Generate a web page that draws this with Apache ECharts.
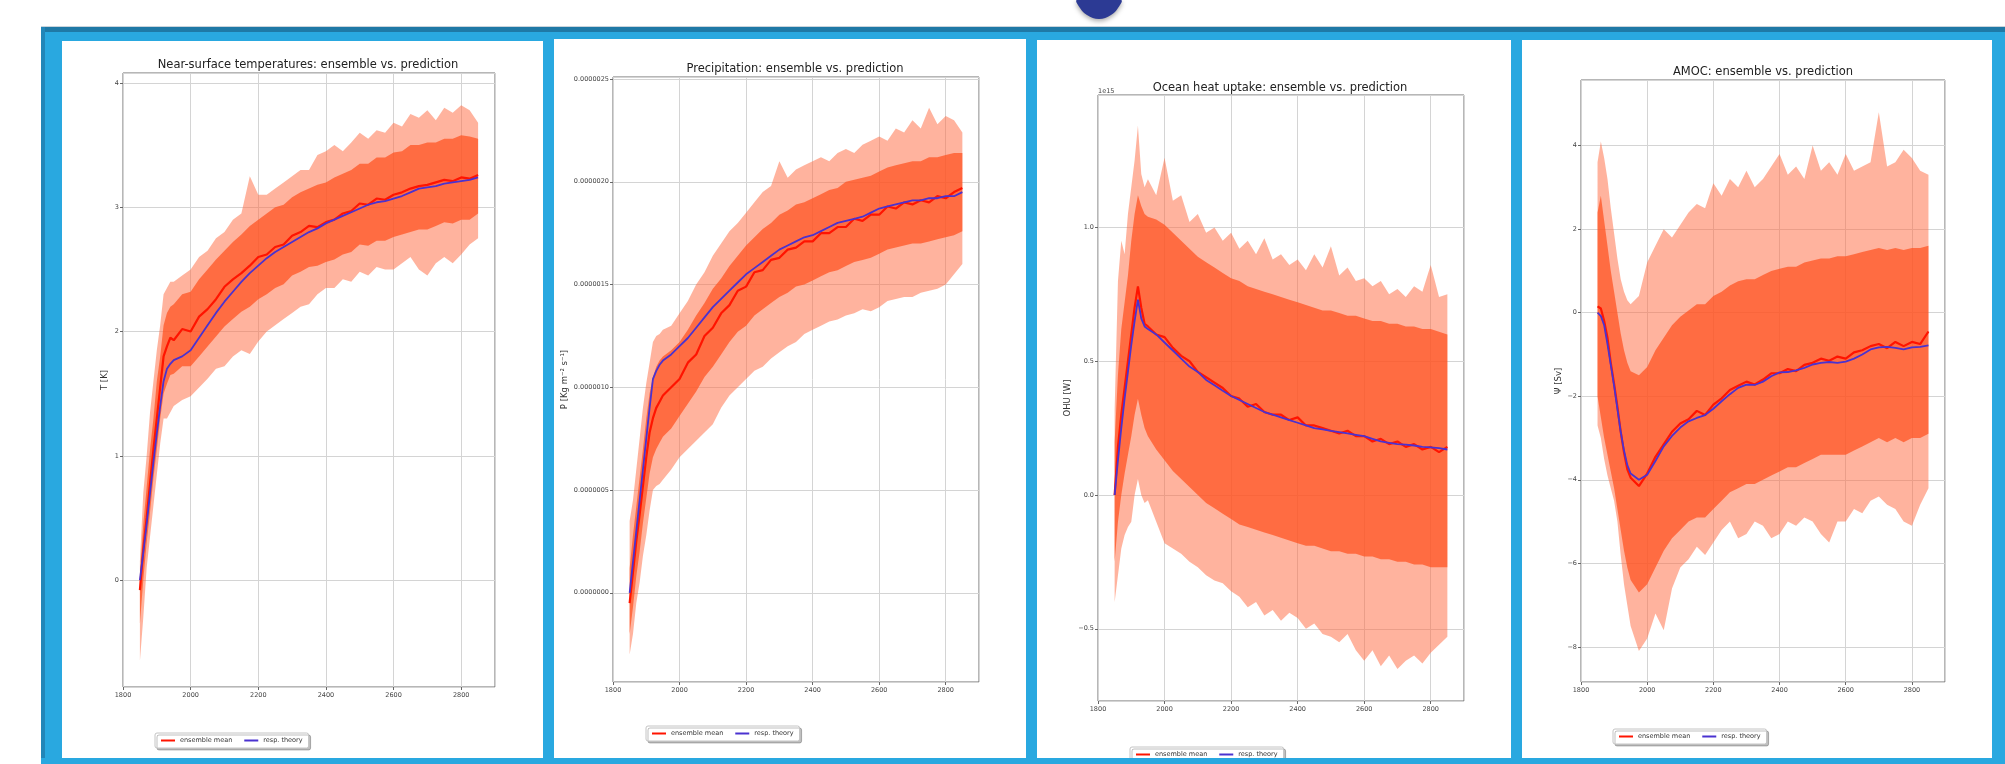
<!DOCTYPE html>
<html>
<head>
<meta charset="utf-8">
<title>ensemble vs. prediction</title>
<script src="https://cdn.jsdelivr.net/npm/echarts@6/dist/echarts.min.js"></script>
<style>
  html, body { margin: 0; padding: 0; background: #fff; }
  #main { width: 2005px; height: 764px; }
</style>
</head>
<body>
<div id="main"></div>
<script>
// model years (denser during the first century)
var years = [1850,1860,1870,1880,1890,1900,1910,1920,1930,1940,1950,
  1975,2000,2025,2050,2075,2100,2125,2150,2175,2200,
  2225,2250,2275,2300,2325,2350,2375,2400,2425,2450,
  2475,2500,2525,2550,2575,2600,2625,2650,2675,2700,
  2725,2750,2775,2800,2825,2850];

// near-surface temperature [K]
var tempTheory = [0,0.22,0.45,0.7,0.95,1.18,1.4,1.6,1.7,1.74,1.77, 1.8,1.85,1.95,2.05,2.15,2.24,2.32,2.4,2.47,2.53, 2.59,2.64,2.68,2.72,2.76,2.8,2.83,2.87,2.9,2.93, 2.96,2.99,3.02,3.04,3.05,3.07,3.09,3.12,3.15,3.16, 3.17,3.19,3.2,3.21,3.22,3.24];
var tempMean = [-0.08,0.25,0.5,0.78,1.05,1.3,1.55,1.8,1.88,1.95,1.93, 2.02,2.0,2.12,2.18,2.26,2.36,2.42,2.47,2.53,2.6, 2.62,2.68,2.7,2.77,2.8,2.85,2.84,2.88,2.9,2.95, 2.97,3.03,3.02,3.07,3.06,3.1,3.12,3.15,3.17,3.18, 3.2,3.22,3.21,3.24,3.23,3.26];
var tempOuterHi = [0.15,0.7,1.0,1.35,1.6,1.85,2.05,2.3,2.35,2.4,2.4, 2.45,2.5,2.6,2.65,2.75,2.8,2.9,2.95,3.25,3.1, 3.1,3.15,3.2,3.25,3.3,3.3,3.42,3.45,3.5,3.45, 3.52,3.6,3.55,3.62,3.6,3.68,3.65,3.75,3.72,3.78, 3.7,3.8,3.76,3.82,3.78,3.68];
var tempOuterLo = [-0.65,-0.3,0.1,0.35,0.6,0.85,1.1,1.3,1.3,1.35,1.4, 1.45,1.48,1.55,1.62,1.7,1.72,1.8,1.85,1.82,1.92, 2.0,2.05,2.1,2.15,2.2,2.22,2.3,2.35,2.35,2.42, 2.4,2.48,2.45,2.52,2.5,2.5,2.55,2.6,2.5,2.45, 2.55,2.6,2.55,2.62,2.7,2.75];
var tempInnerHi = [0.05,0.45,0.75,1.05,1.3,1.6,1.8,2.05,2.15,2.2,2.22, 2.3,2.32,2.42,2.5,2.58,2.65,2.72,2.78,2.85,2.9, 2.95,3.0,3.02,3.08,3.12,3.15,3.18,3.2,3.24,3.27, 3.3,3.35,3.35,3.4,3.4,3.44,3.45,3.5,3.5,3.52, 3.52,3.55,3.55,3.58,3.57,3.55];
var tempInnerLo = [-0.35,0.0,0.3,0.55,0.82,1.05,1.3,1.5,1.58,1.65,1.66, 1.72,1.72,1.8,1.88,1.96,2.04,2.1,2.16,2.2,2.26, 2.3,2.35,2.38,2.45,2.48,2.52,2.53,2.56,2.58,2.62, 2.64,2.7,2.69,2.73,2.73,2.76,2.78,2.8,2.82,2.82, 2.85,2.88,2.87,2.9,2.9,2.95];

// precipitation [1e-6 Kg m-2 s-1]
var precTheory = [0,0.15,0.3,0.45,0.6,0.75,0.9,1.04,1.08,1.11,1.13, 1.16,1.2,1.24,1.29,1.34,1.39,1.43,1.47,1.51,1.55, 1.58,1.61,1.64,1.67,1.69,1.71,1.73,1.74,1.76,1.78, 1.8,1.81,1.82,1.83,1.85,1.87,1.88,1.89,1.9,1.91, 1.91,1.92,1.92,1.93,1.93,1.95];
var precMean = [-0.05,0.1,0.25,0.38,0.52,0.66,0.78,0.85,0.9,0.93,0.96, 1.0,1.04,1.12,1.16,1.25,1.29,1.36,1.4,1.47,1.49, 1.56,1.57,1.62,1.63,1.67,1.68,1.71,1.71,1.75,1.75, 1.78,1.78,1.82,1.81,1.84,1.84,1.88,1.87,1.9,1.89, 1.91,1.9,1.93,1.92,1.95,1.97];
var precOuterHi = [0.35,0.45,0.6,0.75,0.9,1.02,1.12,1.22,1.25,1.26,1.28, 1.3,1.36,1.42,1.5,1.56,1.64,1.7,1.76,1.8,1.85, 1.9,1.95,1.98,2.1,2.02,2.06,2.08,2.1,2.12,2.1, 2.14,2.16,2.14,2.18,2.2,2.22,2.2,2.26,2.24,2.3, 2.26,2.36,2.28,2.32,2.3,2.24];
var precOuterLo = [-0.3,-0.2,-0.05,0.05,0.18,0.28,0.4,0.5,0.52,0.53,0.55, 0.6,0.66,0.7,0.74,0.78,0.82,0.9,0.96,1.0,1.04, 1.08,1.1,1.14,1.17,1.2,1.22,1.26,1.28,1.3,1.32, 1.33,1.35,1.36,1.38,1.37,1.39,1.42,1.43,1.44,1.44, 1.46,1.47,1.48,1.5,1.55,1.6];
var precInnerHi = [0.12,0.28,0.42,0.56,0.7,0.85,0.97,1.05,1.1,1.13,1.15, 1.18,1.22,1.28,1.35,1.41,1.48,1.53,1.59,1.64,1.69, 1.73,1.77,1.8,1.84,1.86,1.89,1.9,1.92,1.94,1.96, 1.97,2.0,2.01,2.02,2.03,2.05,2.07,2.08,2.09,2.1, 2.1,2.12,2.12,2.13,2.14,2.14];
var precInnerLo = [-0.2,-0.07,0.08,0.2,0.34,0.46,0.58,0.66,0.7,0.73,0.76, 0.8,0.86,0.92,0.98,1.05,1.1,1.16,1.22,1.27,1.3, 1.35,1.38,1.41,1.44,1.46,1.49,1.5,1.52,1.54,1.56, 1.57,1.59,1.61,1.62,1.63,1.65,1.67,1.68,1.69,1.7, 1.7,1.71,1.72,1.73,1.74,1.76];

// ocean heat uptake [1e15 W]
var ohuTheory = [0,0.13,0.25,0.36,0.46,0.56,0.65,0.73,0.66,0.63,0.62, 0.6,0.57,0.54,0.51,0.48,0.46,0.43,0.41,0.39,0.37, 0.355,0.34,0.325,0.31,0.3,0.29,0.28,0.27,0.26,0.25, 0.245,0.24,0.235,0.23,0.225,0.22,0.21,0.2,0.195,0.19, 0.188,0.185,0.18,0.178,0.175,0.17];
var ohuMean = [0.0,0.18,0.3,0.4,0.5,0.6,0.7,0.78,0.7,0.64,0.63, 0.6,0.59,0.55,0.52,0.5,0.46,0.44,0.42,0.4,0.37, 0.36,0.33,0.34,0.31,0.3,0.3,0.28,0.29,0.26,0.26, 0.25,0.24,0.23,0.24,0.22,0.22,0.2,0.21,0.19,0.2, 0.18,0.19,0.17,0.18,0.16,0.18];
var ohuOuterHi = [0.32,0.8,0.95,0.9,1.05,1.15,1.25,1.38,1.2,1.15,1.18, 1.12,1.26,1.1,1.12,1.02,1.05,0.98,1.0,0.95,0.98, 0.92,0.95,0.9,0.96,0.88,0.9,0.86,0.88,0.84,0.9, 0.85,0.93,0.82,0.85,0.8,0.81,0.78,0.8,0.75,0.77, 0.74,0.78,0.76,0.86,0.74,0.75];
var ohuOuterLo = [-0.4,-0.3,-0.2,-0.15,-0.12,-0.1,0.0,0.06,0.0,-0.03,-0.02, -0.1,-0.18,-0.2,-0.22,-0.25,-0.27,-0.3,-0.32,-0.33,-0.36, -0.38,-0.42,-0.4,-0.45,-0.43,-0.47,-0.44,-0.46,-0.5,-0.48, -0.52,-0.53,-0.55,-0.52,-0.58,-0.62,-0.58,-0.64,-0.6,-0.65, -0.62,-0.6,-0.63,-0.59,-0.56,-0.53];
var ohuInnerHi = [0.2,0.45,0.62,0.72,0.82,0.95,1.05,1.12,1.08,1.05,1.04, 1.03,1.01,0.98,0.95,0.92,0.89,0.87,0.85,0.83,0.81, 0.8,0.78,0.77,0.76,0.75,0.74,0.73,0.72,0.71,0.7, 0.69,0.69,0.68,0.67,0.67,0.66,0.65,0.65,0.64,0.64, 0.63,0.63,0.62,0.62,0.61,0.6];
var ohuInnerLo = [-0.25,-0.1,0.0,0.08,0.15,0.22,0.3,0.36,0.3,0.25,0.22, 0.17,0.13,0.09,0.06,0.03,0.0,-0.03,-0.05,-0.07,-0.09, -0.11,-0.12,-0.13,-0.14,-0.15,-0.16,-0.17,-0.18,-0.19,-0.19, -0.2,-0.21,-0.21,-0.22,-0.22,-0.23,-0.23,-0.24,-0.24,-0.25, -0.25,-0.26,-0.26,-0.27,-0.27,-0.27];

// AMOC [Sv]
var amocTheory = [0,-0.08,-0.3,-0.75,-1.25,-1.75,-2.3,-2.85,-3.3,-3.65,-3.85, -4.0,-3.88,-3.55,-3.2,-2.95,-2.75,-2.6,-2.52,-2.45,-2.3, -2.12,-1.95,-1.8,-1.72,-1.73,-1.65,-1.52,-1.43,-1.42,-1.38, -1.32,-1.24,-1.2,-1.18,-1.2,-1.17,-1.1,-1.0,-0.88,-0.83, -0.82,-0.84,-0.88,-0.83,-0.82,-0.78];
var amocMean = [0.15,0.1,-0.2,-0.6,-1.2,-1.7,-2.25,-2.85,-3.35,-3.75,-3.95, -4.15,-3.85,-3.45,-3.15,-2.85,-2.65,-2.55,-2.35,-2.45,-2.2, -2.05,-1.85,-1.75,-1.65,-1.72,-1.6,-1.45,-1.45,-1.35,-1.4, -1.25,-1.2,-1.1,-1.15,-1.05,-1.1,-0.95,-0.9,-0.8,-0.75, -0.85,-0.7,-0.8,-0.7,-0.75,-0.45];
var amocOuterHi = [3.6,4.1,3.7,3.2,2.5,1.9,1.3,0.8,0.5,0.3,0.2, 0.4,1.2,1.6,2.0,1.8,2.1,2.4,2.6,2.5,3.1, 2.8,3.2,3.0,3.4,3.0,3.2,3.5,3.8,3.3,3.5, 3.2,4.0,3.4,3.6,3.3,3.8,3.4,3.5,3.6,4.8, 3.5,3.6,3.9,3.7,3.4,3.3];
var amocOuterLo = [-2.7,-3.0,-3.5,-3.9,-4.2,-4.5,-5.0,-5.8,-6.5,-7.0,-7.5, -8.1,-7.8,-7.2,-7.6,-6.6,-6.1,-5.9,-5.6,-5.8,-5.5, -5.2,-5.0,-5.4,-5.3,-5.0,-5.1,-5.4,-5.3,-5.0,-5.1, -4.9,-5.0,-5.3,-5.5,-5.0,-5.0,-4.7,-4.8,-4.5,-4.4, -4.6,-4.7,-5.0,-5.1,-4.6,-4.2];
var amocInnerHi = [2.4,2.8,2.2,1.6,1.0,0.5,0.0,-0.5,-0.9,-1.2,-1.4, -1.5,-1.3,-0.9,-0.6,-0.3,-0.1,0.05,0.2,0.2,0.4, 0.5,0.65,0.75,0.8,0.8,0.9,1.0,1.05,1.1,1.1, 1.2,1.25,1.3,1.3,1.35,1.35,1.4,1.45,1.5,1.55, 1.5,1.55,1.5,1.55,1.55,1.6];
var amocInnerLo = [-2.0,-2.5,-3.0,-3.4,-3.8,-4.2,-4.7,-5.2,-5.7,-6.1,-6.4, -6.7,-6.5,-6.1,-5.7,-5.4,-5.2,-5.0,-4.9,-4.9,-4.7, -4.5,-4.3,-4.2,-4.1,-4.1,-4.0,-3.9,-3.8,-3.7,-3.7, -3.6,-3.5,-3.4,-3.4,-3.4,-3.4,-3.3,-3.2,-3.1,-3.0, -3.1,-3.0,-3.1,-3.0,-3.0,-2.9];

var legendNames = ['ensemble mean', 'resp. theory'];

function minus(s) { return String(s).replace('-', '\u2212'); }

var panels = [
  { title: 'Near-surface temperatures: ensemble vs. prediction', yName: 'T [K]',
    theory: tempTheory, mean: tempMean, oLo: tempOuterLo, oHi: tempOuterHi, iLo: tempInnerLo, iHi: tempInnerHi,
    grid: { left: 123, top: 73, width: 372, height: 614 }, titleAt: [308, 59], legendAt: [155, 733],
    yMin: -0.86, yMax: 4.08, split: 5, nameGap: 14,
    fmt: function (v) { return minus(v); } },
  { title: 'Precipitation: ensemble vs. prediction', yName: 'P [Kg m\u207B\u00B2 s\u207B\u00B9]',
    theory: precTheory, mean: precMean, oLo: precOuterLo, oHi: precOuterHi, iLo: precInnerLo, iHi: precInnerHi,
    grid: { left: 613, top: 77, width: 366, height: 605 }, titleAt: [795, 63], legendAt: [646, 726],
    yMin: -0.434, yMax: 2.51, split: 5, nameGap: 44,
    fmt: function (v) { return (v / 1e6).toFixed(7); } },
  { title: 'Ocean heat uptake: ensemble vs. prediction', yName: 'OHU [W]',
    theory: ohuTheory, mean: ohuMean, oLo: ohuOuterLo, oHi: ohuOuterHi, iLo: ohuInnerLo, iHi: ohuInnerHi,
    grid: { left: 1098, top: 95, width: 366, height: 606 }, titleAt: [1280, 82], legendAt: [1130, 747],
    yMin: -0.77, yMax: 1.495, split: 5, nameGap: 26,
    fmt: function (v) { return minus(v.toFixed(1)); } },
  { title: 'AMOC: ensemble vs. prediction', yName: '\u03A8 [Sv]',
    theory: amocTheory, mean: amocMean, oLo: amocOuterLo, oHi: amocOuterHi, iLo: amocInnerLo, iHi: amocInnerHi,
    grid: { left: 1581, top: 80, width: 364, height: 602 }, titleAt: [1763, 66], legendAt: [1613, 729],
    yMin: -8.84, yMax: 5.57, split: 7, nameGap: 18,
    fmt: function (v) { return minus(v); } }
];

function pairs(vals) {
  return years.map(function (y, i) { return [y, vals[i]]; });
}

// spread between two envelopes, drawn as one polygon through the axis scales
function bandSeries(k, lo, hi, color, z) {
  return {
    type: 'custom', xAxisIndex: k, yAxisIndex: k, zlevel: 1, z: z, silent: true,
    data: years.map(function (y, i) { return [y, lo[i], hi[i]]; }),
    encode: { x: 0, y: [1, 2] },
    renderItem: function (params, api) {
      if (params.dataIndex !== 0) return null;
      var upper = [], lower = [];
      years.forEach(function (y, i) {
        upper.push(api.coord([y, hi[i]]));
        lower.unshift(api.coord([y, lo[i]]));
      });
      return { type: 'polygon', shape: { points: upper.concat(lower) }, style: { fill: color } };
    }
  };
}

var font = 'DejaVu Sans';
var grids = [], xAxes = [], yAxes = [], titles = [], legends = [], series = [];

panels.forEach(function (p, k) {
  grids.push(Object.assign({ show: true, borderColor: '#6f6f6f', borderWidth: 1, backgroundColor: 'transparent' }, p.grid));
  xAxes.push({
    type: 'value', gridIndex: k, min: 1800, max: 2900, splitNumber: 5,
    axisLine: { show: false, onZero: false },
    axisTick: { length: 3, lineStyle: { color: '#666' } },
    axisLabel: { fontSize: 6.5, color: '#444', fontFamily: font, margin: 5, showMaxLabel: false,
      formatter: function (v) { return String(v); } },
    splitLine: { show: true, lineStyle: { color: '#d4d4d4' } }
  });
  yAxes.push({
    type: 'value', gridIndex: k, min: p.yMin, max: p.yMax, splitNumber: p.split,
    name: p.yName, nameLocation: 'middle', nameGap: p.nameGap,
    nameTextStyle: { fontSize: 8.5, color: '#333', fontFamily: font },
    axisLine: { show: false, onZero: false },
    axisTick: { length: 3, lineStyle: { color: '#666' } },
    axisLabel: { fontSize: 6.5, color: '#444', fontFamily: font, margin: 4,
      showMinLabel: false, showMaxLabel: false, formatter: p.fmt },
    splitLine: { show: true, lineStyle: { color: '#d4d4d4' } }
  });
  titles.push({
    text: p.title, left: p.titleAt[0], top: p.titleAt[1], textAlign: 'center', padding: 0,
    textStyle: { fontSize: 11.5, fontWeight: 'normal', color: '#222', fontFamily: font }
  });
  legends.push({
    data: legendNames, left: p.legendAt[0], top: p.legendAt[1],
    icon: 'rect', itemWidth: 14, itemHeight: 2, itemGap: 12, padding: [4, 6],
    backgroundColor: '#fff', borderColor: '#c4c4c4', borderWidth: 1, borderRadius: 2,
    shadowColor: 'rgba(0,0,0,0.25)', shadowOffsetX: 2, shadowOffsetY: 2,
    textStyle: { fontSize: 6.5, color: '#333', fontFamily: font }
  });

  // ensemble spread: faint outer envelope and dense inner core
  series.push(bandSeries(k, p.oLo, p.oHi, 'rgba(255,104,62,0.5)', 1));
  series.push(bandSeries(k, p.iLo, p.iHi, 'rgba(255,82,32,0.72)', 2));

  series.push({
    name: 'ensemble mean', type: 'line', xAxisIndex: k, yAxisIndex: k, data: pairs(p.mean),
    symbol: 'none', zlevel: 1, z: 3, color: '#ff1400', lineStyle: { color: '#ff1400', width: 2.2 }
  });
  series.push({
    name: 'resp. theory', type: 'line', xAxisIndex: k, yAxisIndex: k, data: pairs(p.theory),
    symbol: 'none', zlevel: 1, z: 4, color: '#4a32d0', lineStyle: { color: '#4a32d0', width: 1.8 }
  });
});

var frame = [
  { type: 'rect', z: -10, shape: { x: 41, y: 26, width: 1964, height: 1 }, style: { fill: '#c9d4dc' } },
  { type: 'rect', z: -10, shape: { x: 41, y: 27, width: 1964, height: 5 }, style: { fill: '#1f79a6' } },
  { type: 'rect', z: -10, shape: { x: 41, y: 32, width: 1964, height: 732 }, style: { fill: '#29a8e0' } },
  { type: 'rect', z: -10, shape: { x: 41, y: 27, width: 4, height: 737 }, style: { fill: '#2286b8' } },
  { type: 'rect', z: -9, shape: { x: 62, y: 41, width: 481, height: 717 }, style: { fill: '#fff' } },
  { type: 'rect', z: -9, shape: { x: 554, y: 39, width: 472, height: 719 }, style: { fill: '#fff' } },
  { type: 'rect', z: -9, shape: { x: 1037, y: 40, width: 474, height: 718 }, style: { fill: '#fff' } },
  { type: 'rect', z: -9, shape: { x: 1522, y: 40, width: 470, height: 718 }, style: { fill: '#fff' } },
  { type: 'rect', z: 50, shape: { x: 41, y: 758, width: 1964, height: 6 }, style: { fill: '#29a8e0' } },
  { type: 'polygon', z: 50,
    shape: { points: [[1077, 0], [1080, 8], [1087, 15], [1099, 19], [1111, 15], [1118, 8], [1121, 0]], smooth: 0.4 },
    style: { fill: '#2c3a94', shadowBlur: 5, shadowColor: 'rgba(0,0,0,0.35)', shadowOffsetY: 2 } },
  { type: 'text', z: 50, x: 1098, y: 91,
    style: { text: '1e15', fontSize: 6.5, fill: '#444', fontFamily: font, verticalAlign: 'middle' } }
];

var myChart = echarts.init(document.getElementById('main'));
myChart.setOption({
  animation: false,
  backgroundColor: '#fff',
  graphic: { elements: frame },
  title: titles,
  legend: legends,
  grid: grids,
  xAxis: xAxes,
  yAxis: yAxes,
  series: series
});
</script>
</body>
</html>
